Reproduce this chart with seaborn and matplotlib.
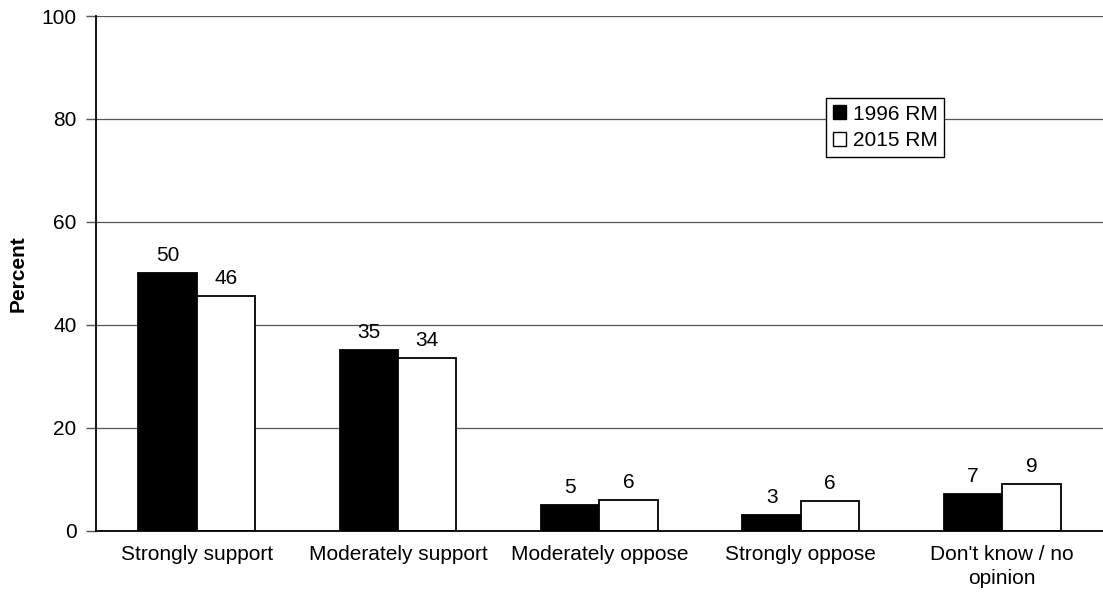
import numpy as np
import pandas as pd
import seaborn as sns
import matplotlib.pyplot as plt
from matplotlib.patches import Patch

# Dados
categorias = ['Strongly support', 'Moderately support', 'Moderately oppose',
              'Strongly oppose', "Don't know / no\nopinion"]
valores_1996 = [50.0, 35.1, 5.0, 3.0, 7.1]
valores_2015 = [45.6, 33.5, 6.0, 5.8, 9.1]
rotulos_1996 = ['50', '35', '5', '3', '7']
rotulos_2015 = ['46', '34', '6', '6', '9']
series = ['1996 RM', '2015 RM']

df = pd.DataFrame({
    'categoria': categorias * 2,
    'serie': [series[0]] * len(categorias) + [series[1]] * len(categorias),
    'valor': valores_1996 + valores_2015,
})

sns.set_style('white')
plt.rcParams['font.family'] = ['Liberation Sans', 'DejaVu Sans']
plt.rcParams['text.color'] = 'black'
plt.rcParams['axes.labelcolor'] = 'black'
plt.rcParams['xtick.color'] = 'black'
plt.rcParams['ytick.color'] = 'black'

fig = plt.figure(figsize=(11.03, 6.04), dpi=100)
ax = fig.add_axes([0.087, 0.121, 0.913, 0.8525])

sns.barplot(data=df, x='categoria', y='valor', hue='serie', order=categorias,
            hue_order=series, palette=['black', 'white'], width=0.58,
            edgecolor='black', linewidth=1.3, saturation=1, legend=False, ax=ax)

# Rótulos de dados (valores arredondados)
for cont, rot in zip(ax.containers, [rotulos_1996, rotulos_2015]):
    ax.bar_label(cont, labels=rot, padding=6, fontsize=15)

ax.set_ylim(0, 100)
ax.set_xlim(-0.5, len(categorias) - 0.5)
ax.set_yticks(np.arange(0, 101, 20))
ax.yaxis.grid(True, color='#555555', linewidth=0.9)
ax.set_axisbelow(True)
ax.set_xlabel('')
ax.set_ylabel('Percent', fontsize=15, fontweight='bold', labelpad=10)

for lado in ['top', 'right']:
    ax.spines[lado].set_visible(False)
for lado in ['left', 'bottom']:
    ax.spines[lado].set_color('black')
    ax.spines[lado].set_linewidth(1.3)

# Marcas do eixo x entre as categorias
ax.set_xticks(np.arange(-0.5, len(categorias), 1), minor=True)
ax.tick_params(axis='x', which='major', length=0, pad=10, labelsize=15)
ax.tick_params(axis='x', which='minor', length=6, width=1, color='#555555', direction='out')
ax.tick_params(axis='y', length=7, width=1, color='#555555', direction='out',
               labelsize=15, pad=7, labelcolor='black')
ax.tick_params(axis='both', bottom=True, left=True)
for t in ax.get_xticklabels():
    t.set_linespacing(1.35)

handles = [Patch(facecolor='black', edgecolor='black', label=series[0]),
           Patch(facecolor='white', edgecolor='black', label=series[1])]
leg = ax.legend(handles=handles, loc='upper left', bbox_to_anchor=(0.725, 0.841),
                fontsize=15, frameon=True, fancybox=False, shadow=False,
                handlelength=0.62, handleheight=0.62, handletextpad=0.35,
                borderpad=0.32, labelspacing=0.38, borderaxespad=0)
leg.get_frame().set_edgecolor('black')
leg.get_frame().set_linewidth(1)
leg.get_frame().set_alpha(1)

fig.savefig('out.png', dpi=100)
